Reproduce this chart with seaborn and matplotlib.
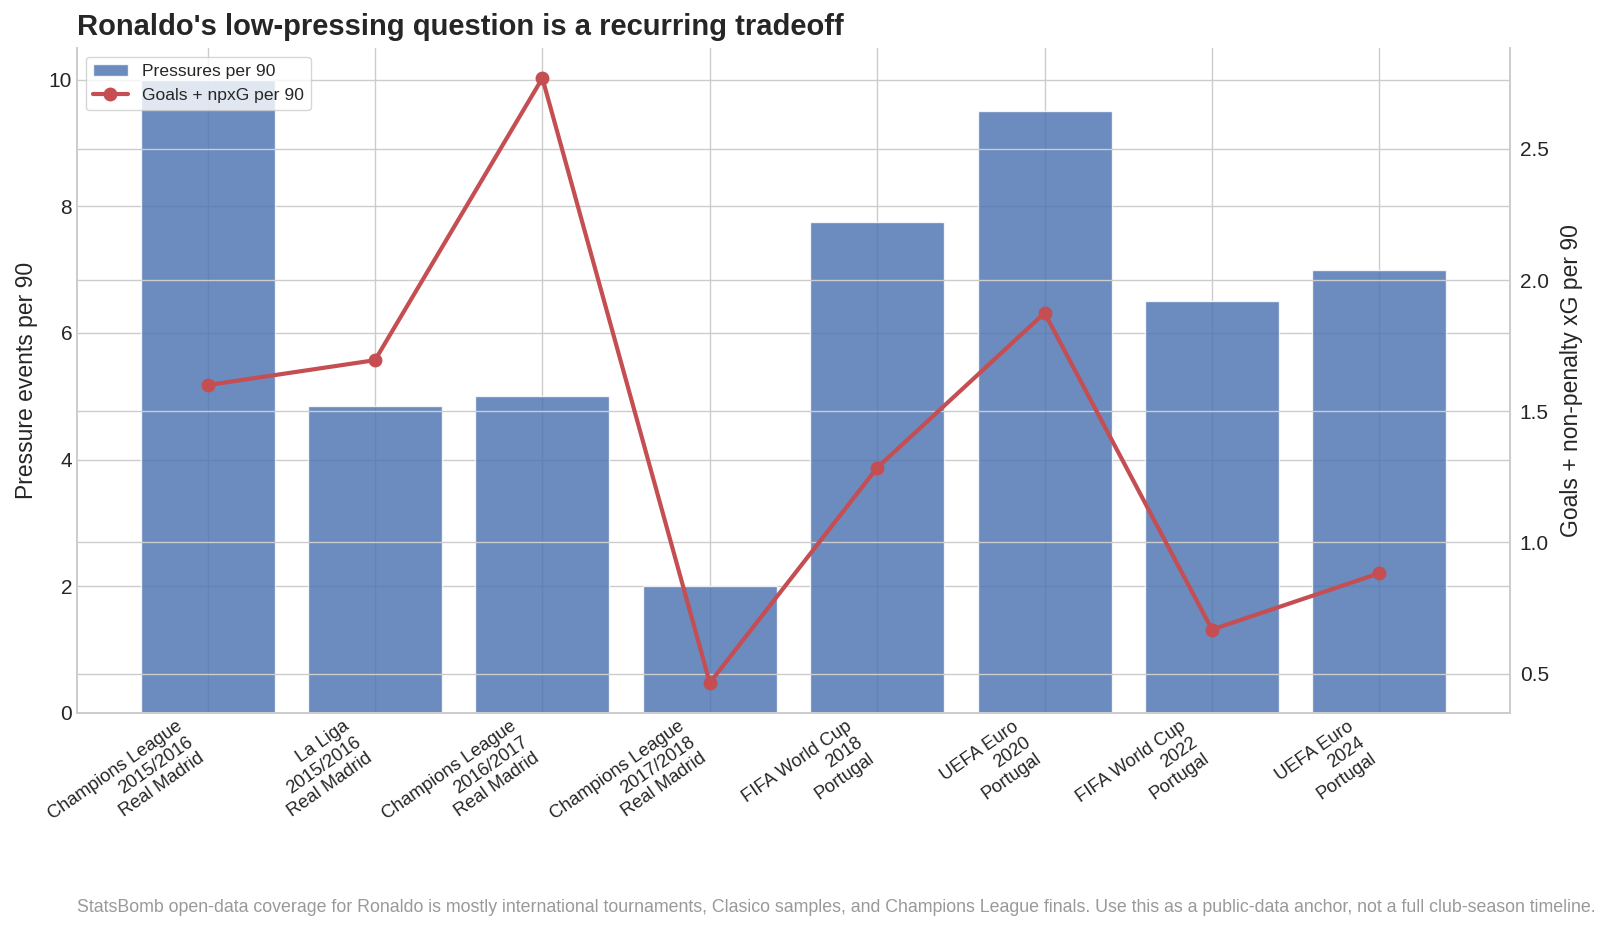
import numpy as np
import pandas as pd
import matplotlib
matplotlib.use("Agg")
import matplotlib.pyplot as plt
import seaborn as sns

# tournament / season / team per sample
competitions = ["Champions League", "La Liga", "Champions League", "Champions League",
                "FIFA World Cup", "UEFA Euro", "FIFA World Cup", "UEFA Euro"]
seasons = ["2015/2016", "2015/2016", "2016/2017", "2017/2018",
           "2018", "2020", "2022", "2024"]
teams = ["Real Madrid", "Real Madrid", "Real Madrid", "Real Madrid",
         "Portugal", "Portugal", "Portugal", "Portugal"]

pressures_p90 = [10.0, 4.85, 5.0, 2.0, 7.75, 9.5, 6.5, 7.0]
goals_npxg_p90 = [1.60, 1.695, 2.77, 0.465, 1.285, 1.875, 0.668, 0.883]

labels = ["{}\n{}\n{}".format(c, s, t) for c, s, t in zip(competitions, seasons, teams)]
df = pd.DataFrame({"label": labels, "pressures": pressures_p90,
                   "goals": goals_npxg_p90, "pos": np.arange(len(labels))})

sns.set_theme(style="whitegrid")
plt.rcParams["font.family"] = ["Liberation Sans", "DejaVu Sans"]

fig = plt.figure(figsize=(16.07, 9.33), dpi=100)
ax = fig.add_axes([77 / 1607, 1 - 713 / 933, (1510 - 77) / 1607, (713 - 48) / 933])

sns.barplot(data=df, x="label", y="pressures", color="#4c72b0", saturation=1,
            alpha=0.82, width=0.8, ax=ax, label="Pressures per 90")
ax.set_xlim(-0.78, 7.78)
ax.set_ylim(0, 10.5)
ax.set_yticks([0, 2, 4, 6, 8, 10])
ax.set_xlabel("")
ax.set_ylabel("Pressure events per 90", fontsize=16.5, labelpad=8)
ax.xaxis.grid(True, color="#cccccc")
ax.tick_params(axis="y", labelsize=15, length=0)
ax.tick_params(axis="x", length=0)
plt.setp(ax.get_xticklabels(), rotation=35, ha="right", fontsize=13.2)

ax2 = ax.twinx()
sns.lineplot(data=df, x="pos", y="goals", color="#c44e52", linewidth=3, marker="o",
             markersize=10, markeredgewidth=0, sort=False, ax=ax2, label="Goals + npxG per 90")
ax2.set_xlim(-0.78, 7.78)
ax2.set_ylim(0.35, 2.885)
ax2.set_yticks([0.5, 1.0, 1.5, 2.0, 2.5])
ax2.set_ylabel("Goals + non-penalty xG per 90", fontsize=16.5, labelpad=8)
ax2.tick_params(axis="y", labelsize=15, length=0, pad=7)
ax2.get_legend().remove()

for a in (ax, ax2):
    a.spines["top"].set_visible(False)
    for s in ("left", "right", "bottom"):
        a.spines[s].set_color("#cccccc")
        a.spines[s].set_linewidth(1.2)

h1, l1 = ax.get_legend_handles_labels()
h2, l2 = ax2.get_legend_handles_labels()
ax.legend(h1 + h2, l1 + l2, loc="upper left", fontsize=12.6, frameon=True)

fig.text(77 / 1607, 1 - 27 / 933, "Ronaldo's low-pressing question is a recurring tradeoff",
         fontsize=21, fontweight="bold", color="#262626", va="center", ha="left")
fig.text(77 / 1607, 1 - 908 / 933,
         "StatsBomb open-data coverage for Ronaldo is mostly international tournaments, Clasico samples, "
         "and Champions League finals. Use this as a public-data anchor, not a full club-season timeline.",
         fontsize=12.75, color="#999999", va="center", ha="left")

fig.savefig("out.png", dpi=100)
